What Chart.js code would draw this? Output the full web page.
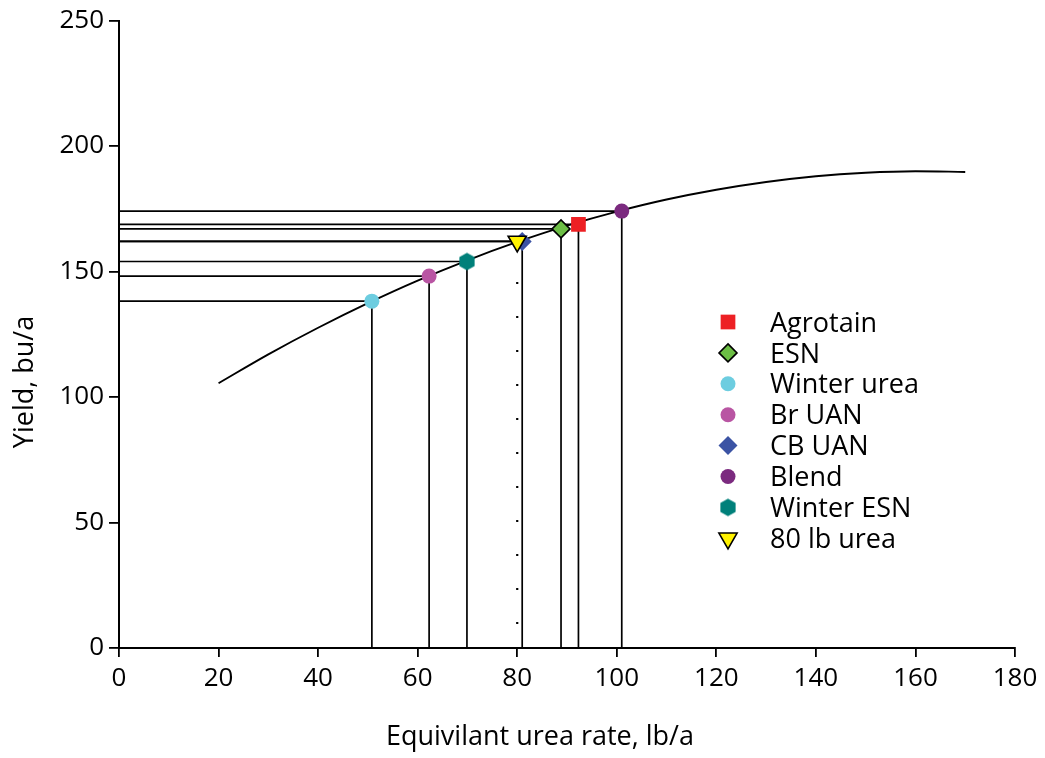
<!DOCTYPE html>
<html><head><meta charset="utf-8">
<script src="https://cdn.jsdelivr.net/npm/chart.js@4/dist/chart.umd.min.js"></script>
<style>html,body{margin:0;padding:0;background:#fff}#wrap{width:1045px;height:758px;position:relative}</style>
</head><body><div id="wrap"><canvas id="c"></canvas></div>
<script>
// ---- data ----
const curveRate  = [20, 30, 40, 50, 60, 70, 80, 90, 100, 110, 120, 130, 140, 150, 160, 170];
const curveYield = [105.5, 117.0, 127.6, 137.4, 146.4, 154.5, 161.8, 168.3, 173.9, 178.7, 182.6, 185.7, 188.0, 189.4, 190.0, 189.7];
const treatments     = ['Agrotain', 'ESN', 'Winter urea', 'Br UAN', 'CB UAN', 'Blend', 'Winter ESN', '80 lb urea'];
const treatmentRate  = [92.3, 88.8, 50.8, 62.3, 81.0, 101.0, 69.9, 80.0];
const treatmentYield = [168.8, 167.0, 138.2, 148.2, 162.0, 174.1, 154.0, 162.0];
const xTicks = [0, 20, 40, 60, 80, 100, 120, 140, 160, 180];
const yTicks = [0, 50, 100, 150, 200, 250];
const xTitle = 'Equivilant urea rate, lb/a';
const yTitle = 'Yield, bu/a';

// ---- styling ----
const FONT = "'Open Sans', 'Noto Sans', sans-serif";
const TEXT = '#000';
function hexagonCanvas(fill, r) {
  const w = Math.ceil(Math.sqrt(3) * r) + 2, h = Math.ceil(2 * r) + 2;
  const c = document.createElement('canvas'); c.width = w; c.height = h;
  const g = c.getContext('2d'); g.fillStyle = fill; g.beginPath();
  for (let i = 0; i < 6; i++) {
    const a = Math.PI / 2 + i * Math.PI / 3;
    const px = w / 2 + r * Math.cos(a), py = h / 2 + r * Math.sin(a);
    i ? g.lineTo(px, py) : g.moveTo(px, py);
  }
  g.closePath(); g.fill(); return c;
}
const hexImg = hexagonCanvas('#00807A', 8.8);
const markerStyle = {
  'Agrotain':    {pointStyle: 'rect',     radius: 10.4, bg: '#ED2024', border: '#ED2024', bw: 0, rot: 0},
  'ESN':         {pointStyle: 'rectRot',  radius: 9,    bg: '#6CBE45', border: '#000', bw: 1.6, rot: 0},
  'Winter urea': {pointStyle: 'circle',   radius: 7.5,  bg: '#6DCDE0', border: '#6DCDE0', bw: 0, rot: 0},
  'Br UAN':      {pointStyle: 'circle',   radius: 7.5,  bg: '#B955A3', border: '#B955A3', bw: 0, rot: 0},
  'CB UAN':      {pointStyle: 'rectRot',  radius: 9.5,  bg: '#3B53A4', border: '#3B53A4', bw: 0, rot: 0},
  'Blend':       {pointStyle: 'circle',   radius: 7.5,  bg: '#7B2A7F', border: '#7B2A7F', bw: 0, rot: 0},
  'Winter ESN':  {pointStyle: hexImg,     radius: 9,    bg: '#00807A', border: '#00807A', bw: 0, rot: 0},
  '80 lb urea':  {pointStyle: 'triangle', radius: 10.5, bg: '#FFF200', border: '#000', bw: 1.6, rot: 180}
};
const dottedTreatment = '80 lb urea';

// ---- datasets ----
const datasets = [];
treatments.forEach((name, i) => {
  const s = markerStyle[name];
  datasets.push({
    type: 'scatter', label: name, order: 0,
    data: [{x: treatmentRate[i], y: treatmentYield[i]}],
    pointStyle: s.pointStyle, pointRadius: s.radius, pointHoverRadius: s.radius,
    pointRotation: s.rot, backgroundColor: s.bg, borderColor: s.border, borderWidth: s.bw
  });
});
datasets.find(d => d.label === '80 lb urea').order = -1;
datasets.push({
  type: 'line', label: 'curve', order: 1,
  data: curveRate.map((x, i) => ({x, y: curveYield[i]})),
  borderColor: '#000', borderWidth: 1.9, pointRadius: 0, cubicInterpolationMode: 'monotone', fill: false
});
treatments.forEach((name, i) => {
  datasets.push({
    type: 'line', label: 'h-' + name, order: 2,
    data: [{x: 0, y: treatmentYield[i]}, {x: treatmentRate[i], y: treatmentYield[i]}],
    borderColor: '#000', borderWidth: 1.7, pointRadius: 0, fill: false
  });
  const dotted = name === dottedTreatment;
  datasets.push({
    type: 'line', label: 'v-' + name, order: 2,
    data: [{x: treatmentRate[i], y: 0}, {x: treatmentRate[i], y: treatmentYield[i]}],
    borderColor: '#000', borderWidth: dotted ? 2.2 : 1.7, pointRadius: 0, fill: false,
    borderDash: dotted ? [2, 32] : [], borderDashOffset: dotted ? 10 : 0, borderCapStyle: 'butt'
  });
});

// ---- plugin: axis titles + legend ----
function drawShape(ctx, s, x, y) {
  ctx.save();
  ctx.fillStyle = s.bg; ctx.strokeStyle = s.border; ctx.lineWidth = s.bw;
  const r = s.radius;
  if (typeof s.pointStyle !== 'string') {
    ctx.drawImage(s.pointStyle, x - s.pointStyle.width / 2, y - s.pointStyle.height / 2);
    ctx.restore(); return;
  }
  ctx.beginPath();
  if (s.pointStyle === 'circle') ctx.arc(x, y, r, 0, Math.PI * 2);
  else if (s.pointStyle === 'rect') { const h = r * Math.SQRT1_2; ctx.rect(x - h, y - h, 2 * h, 2 * h); }
  else if (s.pointStyle === 'rectRot') { ctx.moveTo(x, y - r); ctx.lineTo(x + r, y); ctx.lineTo(x, y + r); ctx.lineTo(x - r, y); ctx.closePath(); }
  else if (s.pointStyle === 'triangle') {
    for (let k = 0; k < 3; k++) {
      const a = (s.rot * Math.PI / 180) + k * 2 * Math.PI / 3;
      const px = x + Math.sin(a) * r, py = y - Math.cos(a) * r;
      k ? ctx.lineTo(px, py) : ctx.moveTo(px, py);
    }
    ctx.closePath();
  }
  ctx.fill(); if (s.bw) ctx.stroke();
  ctx.restore();
}
const decorations = {
  id: 'decorations',
  afterDraw(chart) {
    const ctx = chart.ctx;
    ctx.save();
    ctx.fillStyle = TEXT;
    ctx.font = "27px " + FONT;
    ctx.textBaseline = 'alphabetic';
    ctx.textAlign = 'center';
    ctx.fillText(xTitle, 540, 745);
    ctx.save();
    ctx.translate(33, 382); ctx.rotate(-Math.PI / 2);
    ctx.fillText(yTitle, 0, 0);
    ctx.restore();
    ctx.textAlign = 'left';
    const lx = 728, tx = 770, y0 = 322, dy = 30.9;
    treatments.forEach((name, i) => {
      const cy = y0 + i * dy;
      drawShape(ctx, markerStyle[name], lx, cy);
      ctx.fillStyle = TEXT;
      ctx.fillText(name, tx, cy + 9.6);
    });
    ctx.restore();
  }
};

new Chart(document.getElementById('c'), {
  data: {datasets},
  options: {
    responsive: true, maintainAspectRatio: false, animation: false,
    layout: {padding: {left: 0, right: 30, top: 20, bottom: 0}},
    plugins: {legend: {display: false}, tooltip: {enabled: false}},
    scales: {
      x: {
        type: 'linear', min: 0, max: 180,
        afterBuildTicks: s => { s.ticks = xTicks.map(v => ({value: v})); },
        afterFit: s => { s.height = 110; },
        grid: {drawOnChartArea: false, drawTicks: true, tickLength: 9, color: '#000', lineWidth: 1.8},
        border: {display: true, color: '#000', width: 2},
        ticks: {font: {family: FONT, size: 26}, color: TEXT, padding: 6, maxRotation: 0, autoSkip: false}
      },
      y: {
        type: 'linear', min: 0, max: 250,
        afterBuildTicks: s => { s.ticks = yTicks.map(v => ({value: v})); },
        afterFit: s => { s.width = 119; },
        grid: {drawOnChartArea: false, drawTicks: true, tickLength: 10, color: '#000', lineWidth: 1.8},
        border: {display: true, color: '#000', width: 2},
        ticks: {font: {family: FONT, size: 26}, color: TEXT, padding: 5, autoSkip: false}
      }
    }
  },
  plugins: [decorations]
});
</script></body></html>
